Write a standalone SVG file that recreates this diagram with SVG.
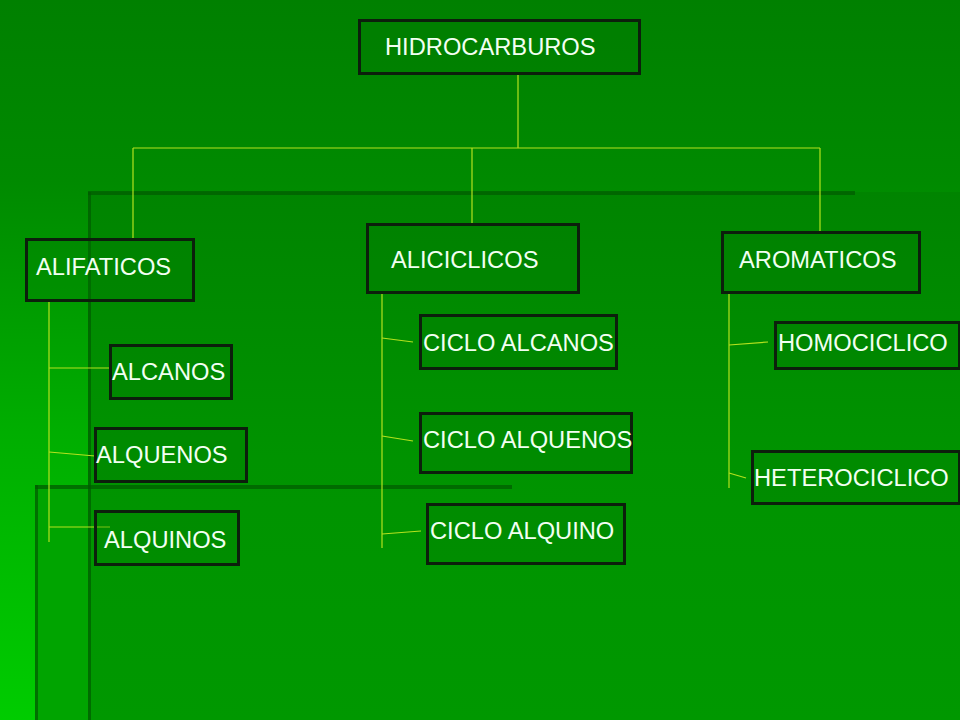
<svg xmlns="http://www.w3.org/2000/svg" width="960" height="720" viewBox="0 0 960 720">
<defs>
<linearGradient id="bg" x1="0" y1="0" x2="0" y2="720" gradientUnits="userSpaceOnUse">
<stop offset="0" stop-color="#008000"/>
<stop offset="0.25" stop-color="#008a00"/>
<stop offset="0.6" stop-color="#00ae00"/>
<stop offset="1" stop-color="#00cc00"/>
</linearGradient>
<linearGradient id="panelA" x1="0" y1="192" x2="0" y2="720" gradientUnits="userSpaceOnUse">
<stop offset="0" stop-color="#008400"/>
<stop offset="0.5" stop-color="#009300"/>
<stop offset="1" stop-color="#009800"/>
</linearGradient>
<style>
.box{fill:#007a00;fill-opacity:0.3;stroke:#0c1f0c;stroke-width:3}
.lbl{font-family:"Liberation Sans",Arial,sans-serif;font-size:23.7px;fill:#f2fff2}
.con line{stroke:#b4e21e;stroke-width:1.2;fill:none}
.stripe{fill:#005a00;fill-opacity:0.7}
</style>
</defs>
<rect width="960" height="720" fill="url(#bg)"/>
<rect x="35" y="485" width="53" height="235" fill="#00a400"/>
<rect x="88" y="192" width="872" height="528" fill="url(#panelA)"/>
<rect class="stripe" x="88" y="191" width="767" height="4"/>
<rect class="stripe" x="88" y="192" width="3" height="528" fill-opacity="0.12"/>
<rect class="stripe" x="35" y="485" width="477" height="4"/>
<rect class="stripe" x="35" y="485" width="3" height="235" fill-opacity="0.12"/>

<g class="con" id="connectors">
<line x1="518" y1="73" x2="518" y2="148"/>
<line x1="133" y1="148" x2="820" y2="148"/>
<line x1="133" y1="148" x2="133" y2="239"/>
<line x1="472" y1="148" x2="472" y2="224"/>
<line x1="820" y1="148" x2="820" y2="232"/>
<line x1="49" y1="300" x2="49" y2="542"/>
<line x1="49" y1="368" x2="110" y2="368"/>
<line x1="49" y1="452" x2="95" y2="456"/>
<line x1="49" y1="527" x2="110" y2="527"/>
<line x1="382" y1="293" x2="382" y2="548"/>
<line x1="382" y1="338" x2="413" y2="342"/>
<line x1="382" y1="436" x2="413" y2="441"/>
<line x1="382" y1="534" x2="421" y2="531"/>
<line x1="729" y1="293" x2="729" y2="488"/>
<line x1="729" y1="345" x2="768" y2="342"/>
<line x1="729" y1="473" x2="746" y2="478"/>
</g>

<g id="hidrocarburos"><rect class="box" x="359.5" y="20.5" width="280" height="53"/><text class="lbl" x="385" y="55">HIDROCARBUROS</text></g>
<g id="alifaticos"><rect class="box" x="26.5" y="239.5" width="167" height="61"/><text class="lbl" x="36" y="275">ALIFATICOS</text></g>
<g id="aliciclicos"><rect class="box" x="367.5" y="224.5" width="211" height="68"/><text class="lbl" x="391" y="268">ALICICLICOS</text></g>
<g id="aromaticos"><rect class="box" x="722.5" y="232.5" width="197" height="60"/><text class="lbl" x="739" y="268">AROMATICOS</text></g>
<g id="alcanos"><rect class="box" x="110.5" y="345.5" width="121" height="53"/><text class="lbl" x="112" y="380">ALCANOS</text></g>
<g id="alquenos"><rect class="box" x="95.5" y="428.5" width="151" height="53"/><text class="lbl" x="96" y="463">ALQUENOS</text></g>
<g id="alquinos"><rect class="box" x="95.5" y="511.5" width="143" height="53"/><text class="lbl" x="104" y="548">ALQUINOS</text></g>
<g id="cicloalcanos"><rect class="box" x="420.5" y="315.5" width="196" height="53"/><text class="lbl" x="423" y="351">CICLO ALCANOS</text></g>
<g id="cicloalquenos"><rect class="box" x="420.5" y="413.5" width="211" height="59"/><text class="lbl" x="423" y="448">CICLO ALQUENOS</text></g>
<g id="cicloalquino"><rect class="box" x="427.5" y="504.5" width="197" height="59"/><text class="lbl" x="430" y="539">CICLO ALQUINO</text></g>
<g id="homociclico"><rect class="box" x="775.5" y="322.5" width="184" height="46"/><text class="lbl" x="778" y="351">HOMOCICLICO</text></g>
<g id="heterociclico"><rect class="box" x="752.5" y="451.5" width="207" height="52"/><text class="lbl" x="754" y="486">HETEROCICLICO</text></g>
</svg>
